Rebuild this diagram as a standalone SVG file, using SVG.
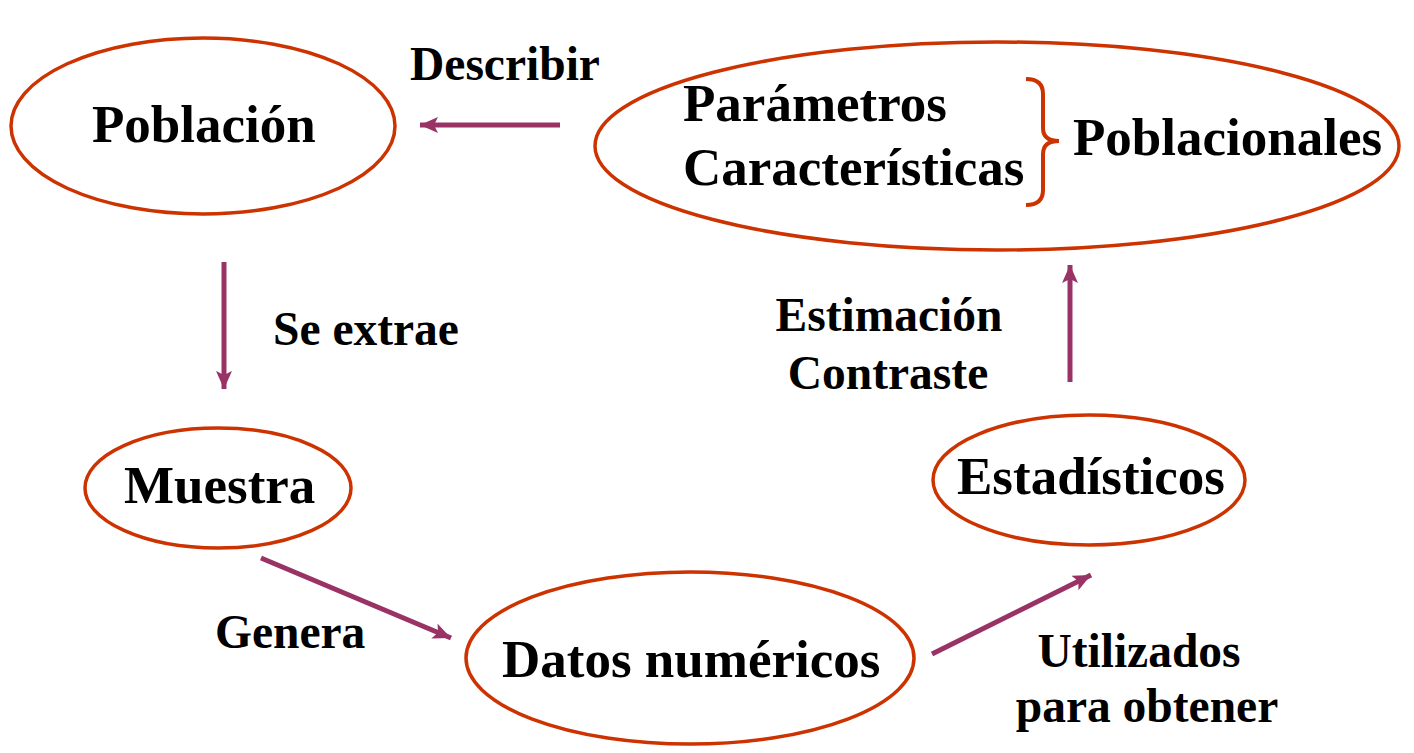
<svg xmlns="http://www.w3.org/2000/svg" width="1414" height="753" viewBox="0 0 1414 753">
<defs>
<style>
.node{fill:none;stroke:#CC3300;stroke-width:3.5}
.t{font-family:"Liberation Serif","Times New Roman",serif;font-weight:bold;fill:#000}
.big{font-size:53px}
.lab{font-size:47.5px}
.conn{stroke:#993366;stroke-width:5;fill:none;marker-end:url(#ah)}
</style>
<marker id="ah" markerUnits="userSpaceOnUse" markerWidth="20" markerHeight="18" refX="18" refY="8" orient="auto">
<path d="M0,0 L18,8 L0,16 L4,8 Z" fill="#993366"/>
</marker>
</defs>
<rect width="1414" height="753" fill="#fff"/>
<g id="connectors">
<line class="conn" x1="560" y1="125" x2="420" y2="125"/>
<line class="conn" x1="224" y1="262" x2="224" y2="389"/>
<line class="conn" x1="261" y1="558" x2="451" y2="638"/>
<line class="conn" x1="932" y1="654" x2="1091" y2="575"/>
<line class="conn" x1="1070" y1="382" x2="1070" y2="265"/>
</g>
<g id="poblacion">
<ellipse class="node" cx="203" cy="126" rx="192" ry="88"/>
<text class="t big" x="92" y="142">Población</text>
</g>
<g id="parametros">
<ellipse class="node" cx="997" cy="146" rx="402" ry="104"/>
<text class="t big" x="683" y="121">Parámetros</text>
<text class="t big" x="683" y="185">Características</text>
<path d="M1026,79 Q1043,79 1043,94 L1043,128 Q1043,141 1059,141 Q1043,141 1043,154 L1043,190 Q1043,205 1026,205" fill="none" stroke="#CC3300" stroke-width="4"/>
<text class="t big" x="1073" y="155">Poblacionales</text>
</g>
<g id="muestra">
<ellipse class="node" cx="218" cy="488" rx="133" ry="60"/>
<text class="t big" x="124" y="503">Muestra</text>
</g>
<g id="estadisticos">
<ellipse class="node" cx="1089" cy="480" rx="156" ry="65"/>
<text class="t big" x="957" y="494">Estadísticos</text>
</g>
<g id="datos">
<ellipse class="node" cx="690" cy="658" rx="224" ry="86"/>
<text class="t big" x="502" y="677">Datos numéricos</text>
</g>
<g id="labels">
<text class="t lab" x="410" y="80">Describir</text>
<text class="t lab" x="273" y="345">Se extrae</text>
<text class="t lab" x="889" y="331" text-anchor="middle">Estimación</text>
<text class="t lab" x="888" y="389" text-anchor="middle">Contraste</text>
<text class="t lab" x="215" y="648">Genera</text>
<text class="t lab" x="1139" y="667" text-anchor="middle">Utilizados</text>
<text class="t lab" x="1147" y="722" text-anchor="middle">para obtener</text>
</g>
</svg>
